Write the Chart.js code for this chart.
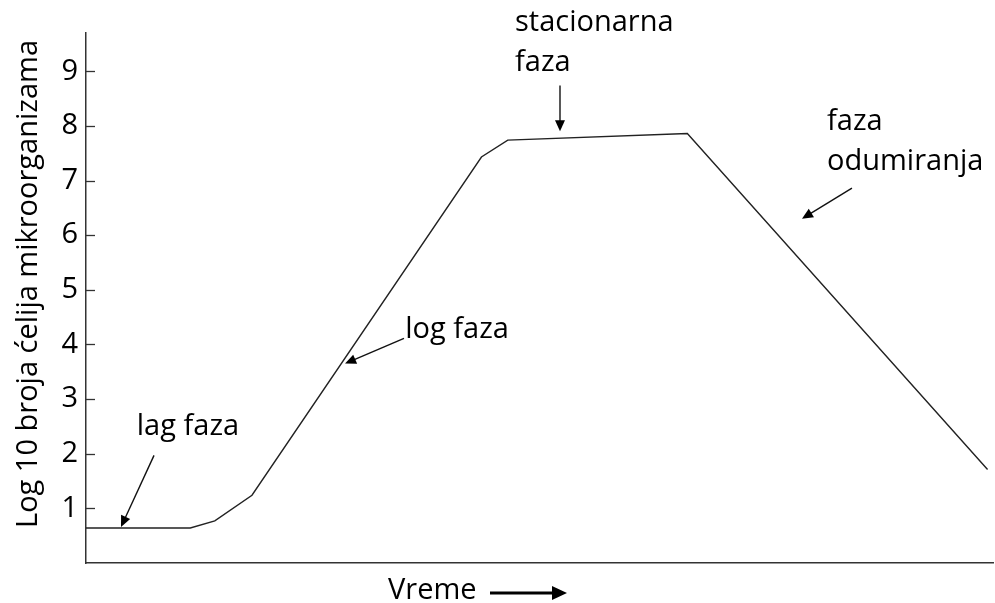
<!DOCTYPE html>
<html>
<head>
<meta charset="utf-8">
<script src="https://cdn.jsdelivr.net/npm/chart.js@4.4.1/dist/chart.umd.min.js"></script>
<style>
  html, body { margin: 0; padding: 0; background: #fff; }
  #wrap { width: 995px; height: 603px; }
</style>
</head>
<body>
<div id="wrap"><canvas id="grafik"></canvas></div>
<script>
// podaci krive rasta (vreme u relativnim jedinicama 0-100)
const vreme = [0, 11.5, 14.2, 18.3, 43.6, 46.5, 66.3, 99.4];
const logBroj = [0.64, 0.64, 0.77, 1.24, 7.43, 7.74, 7.86, 1.71];
const yOznake = [1, 2, 3, 4, 5, 6, 7, 8, 9];

const FONT = "'Open Sans', Lato, sans-serif";
const VEL = 29;

// natpisi faza i strelice (u koordinatama podataka)
const natpisi = [
  { text: "lag faza", x: 5.6, y: 2.5 },
  { text: "log faza", x: 35.2, y: 4.27 },
  { text: "stacionarna", x: 47.3, y: 9.89 },
  { text: "faza", x: 47.3, y: 9.16 },
  { text: "faza", x: 81.7, y: 8.07 },
  { text: "odumiranja", x: 81.7, y: 7.34 }
];
const strelice = [
  { x1: 7.5, y1: 1.97, x2: 3.86, y2: 0.66 },
  { x1: 35.06, y1: 4.11, x2: 28.56, y2: 3.65 },
  { x1: 52.26, y1: 8.74, x2: 52.26, y2: 7.90 },
  { x1: 84.45, y1: 6.86, x2: 78.94, y2: 6.30 }
];

function strelica(ctx, x1, y1, x2, y2) {
  const ugao = Math.atan2(y2 - y1, x2 - x1);
  const duz = 11, sir = 5;
  ctx.beginPath();
  ctx.moveTo(x1, y1);
  ctx.lineTo(x2 - Math.cos(ugao) * duz * 0.8, y2 - Math.sin(ugao) * duz * 0.8);
  ctx.stroke();
  ctx.beginPath();
  ctx.moveTo(x2, y2);
  ctx.lineTo(x2 - Math.cos(ugao) * duz - Math.sin(ugao) * sir, y2 - Math.sin(ugao) * duz + Math.cos(ugao) * sir);
  ctx.lineTo(x2 - Math.cos(ugao) * duz + Math.sin(ugao) * sir, y2 - Math.sin(ugao) * duz - Math.cos(ugao) * sir);
  ctx.closePath();
  ctx.fill();
}

// plugin za crtice, natpise, naslove i strelice
const fazePlugin = {
  id: "faze",
  afterDraw(chart) {
    const ctx = chart.ctx;
    const sx = chart.scales.x, sy = chart.scales.y;
    ctx.save();
    ctx.strokeStyle = "#333";
    ctx.fillStyle = "#000";
    ctx.lineWidth = 1.3;
    // crtice na y osi (ka unutra)
    for (const v of yOznake) {
      const py = Math.round(sy.getPixelForValue(v)) + 0.5;
      ctx.beginPath();
      ctx.moveTo(sx.left, py);
      ctx.lineTo(sx.left + 9, py);
      ctx.stroke();
    }
    ctx.font = VEL + "px " + FONT;
    ctx.textAlign = "left";
    ctx.textBaseline = "middle";
    for (const n of natpisi) {
      ctx.fillText(n.text, sx.getPixelForValue(n.x), sy.getPixelForValue(n.y));
    }
    ctx.strokeStyle = "#111";
    ctx.lineWidth = 1.4;
    for (const s of strelice) {
      strelica(ctx, sx.getPixelForValue(s.x1), sy.getPixelForValue(s.y1),
               sx.getPixelForValue(s.x2), sy.getPixelForValue(s.y2));
    }
    // naslov y ose
    ctx.save();
    ctx.translate(29, 284);
    ctx.rotate(-Math.PI / 2);
    ctx.textAlign = "center";
    ctx.fillText("Log 10 broja ćelija mikroorganizama", 0, 0);
    ctx.restore();
    // naslov x ose sa strelicom
    const h = chart.height;
    ctx.fillText("Vreme", 388, h - 12);
    ctx.lineWidth = 3;
    ctx.strokeStyle = "#000";
    ctx.beginPath();
    ctx.moveTo(490, h - 10);
    ctx.lineTo(555, h - 10);
    ctx.stroke();
    ctx.beginPath();
    ctx.moveTo(567, h - 10);
    ctx.lineTo(552, h - 17);
    ctx.lineTo(552, h - 3);
    ctx.closePath();
    ctx.fill();
    ctx.restore();
  }
};

const ctx = document.getElementById("grafik").getContext("2d");
const chart = new Chart(ctx, {
  type: "line",
  data: {
    datasets: [{
      label: "Rast",
      data: vreme.map((t, i) => ({ x: t, y: logBroj[i] })),
      borderColor: "#222",
      borderWidth: 1.4,
      pointRadius: 0,
      tension: 0,
      fill: false
    }]
  },
  options: {
    responsive: true,
    maintainAspectRatio: false,
    animation: false,
    layout: { padding: { top: 33, right: 2, left: 0, bottom: 0 } },
    plugins: {
      legend: { display: false },
      tooltip: { enabled: false }
    },
    scales: {
      x: {
        type: "linear",
        min: 0,
        max: 100,
        grid: { display: false, drawTicks: false },
        border: { display: true, color: "#333", width: 1.5 },
        ticks: { display: false },
        afterFit: s => { s.height = 40; }
      },
      y: {
        min: 0,
        max: 9.7,
        grid: { display: false, drawTicks: false },
        border: { display: true, color: "#333", width: 1.5 },
        afterBuildTicks: s => { s.ticks = yOznake.map(v => ({ value: v })); },
        ticks: {
          color: "#000",
          padding: 8,
          font: { family: FONT, size: VEL }
        },
        afterFit: s => { s.width = 86; }
      }
    }
  },
  plugins: [fazePlugin]
});
</script>
</body>
</html>
